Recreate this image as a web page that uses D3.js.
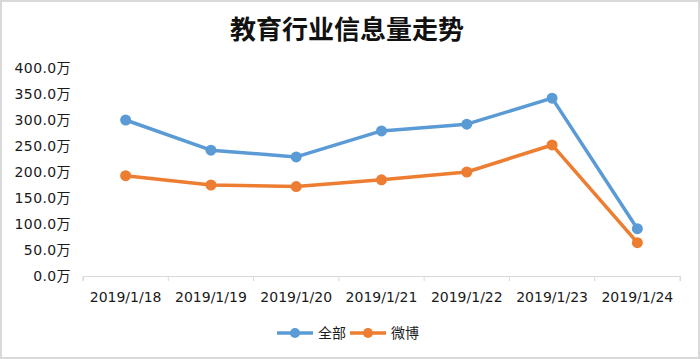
<!DOCTYPE html>
<html><head><meta charset="utf-8">
<script src="https://cdn.jsdelivr.net/npm/d3@7"></script>
<style>
html,body{margin:0;padding:0;background:#fff;}
svg{display:block;}
</style></head>
<body>
<svg id="chart" width="700" height="359"></svg>
<script>
const title = "教育行业信息量走势";
const categories = ["2019/1/18","2019/1/19","2019/1/20","2019/1/21","2019/1/22","2019/1/23","2019/1/24"];
const seriesNames = ["全部","微博"];
const seriesAll = [300, 242, 229, 279, 292, 342, 91];
const seriesWeibo = [193, 175, 172, 185, 200, 252, 64];
const yTicks = [0,50,100,150,200,250,300,350,400];
const colors = ["#5B9BD5","#ED7D31"];

(function(){
const svg = d3.select("#chart");
const W = 700, H = 359;
const font = "'Noto Sans CJK SC','Noto Sans',sans-serif";
const numFont = "'DejaVu Sans','Noto Sans CJK SC',sans-serif";

svg.append("rect").attr("x",1).attr("y",1).attr("width",W-2).attr("height",H-2)
  .attr("fill","#fff").attr("stroke","#d9d9d9").attr("stroke-width",2);

svg.append("text").attr("x",347).attr("y",39).attr("text-anchor","middle")
  .attr("font-family",font).attr("font-weight","bold").attr("font-size",26)
  .attr("fill","#111").text(title);

const mL = 83, mR = 680, mT = 68, mB = 276;
const x = d3.scaleBand().domain(categories).range([mL,mR]);
const y = d3.scaleLinear().domain([0,400]).range([mB,mT]);

const xAxis = svg.append("g").attr("transform",`translate(0,${mB})`)
  .call(d3.axisBottom(x).tickSizeInner(5).tickSizeOuter(5).tickValues([]));
xAxis.select(".domain").attr("stroke","#d9d9d9");
const bounds = categories.map(c=>x(c)).concat([mR]);
xAxis.selectAll("line.bt").data(bounds).enter().append("line")
  .attr("x1",d=>d).attr("x2",d=>d).attr("y1",0).attr("y2",5).attr("stroke","#d9d9d9");
xAxis.selectAll("text.lbl").data(categories).enter().append("text")
  .attr("x",d=>x(d)+x.bandwidth()/2).attr("y",26).attr("text-anchor","middle")
  .attr("font-family",numFont).attr("font-size",14).attr("fill","#1a1a1a").text(d=>d);

const yAxis = svg.append("g").attr("transform",`translate(${mL},0)`)
  .call(d3.axisLeft(y).tickValues(yTicks).tickSize(0).tickFormat(d=>d.toFixed(1)+"万"));
yAxis.select(".domain").remove();
yAxis.selectAll("text").attr("x",-12).attr("font-family",numFont).attr("font-size",14)
  .attr("letter-spacing",0.4).attr("fill","#1a1a1a");

const series = [seriesAll, seriesWeibo];
const line = d3.line().x((d,i)=>x(categories[i])+x.bandwidth()/2).y(d=>y(d));
series.forEach((s,k)=>{
  svg.append("path").datum(s).attr("d",line).attr("fill","none")
    .attr("stroke",colors[k]).attr("stroke-width",3.5).attr("stroke-linejoin","round");
  svg.selectAll(null).data(s).enter().append("circle")
    .attr("cx",(d,i)=>x(categories[i])+x.bandwidth()/2).attr("cy",d=>y(d))
    .attr("r",5.5).attr("fill",colors[k]);
});

const legendY = 333;
const legendX = [277, 350];
seriesNames.forEach((n,k)=>{
  const lx = legendX[k];
  svg.append("line").attr("x1",lx).attr("x2",lx+36).attr("y1",legendY).attr("y2",legendY)
    .attr("stroke",colors[k]).attr("stroke-width",3.5);
  svg.append("circle").attr("cx",lx+18).attr("cy",legendY).attr("r",5).attr("fill",colors[k]);
  svg.append("text").attr("x",lx+41).attr("y",legendY+5).attr("font-family",font)
    .attr("font-size",14).attr("fill","#1a1a1a").text(n);
});
})();
</script>
</body></html>
